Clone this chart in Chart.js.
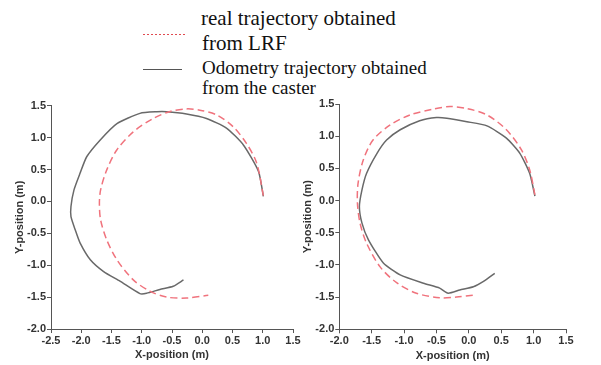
<!DOCTYPE html>
<html>
<head>
<meta charset="utf-8">
<script src="https://cdn.jsdelivr.net/npm/chart.js@4"></script>
<style>
  body { margin: 0; background: #fff; width: 601px; height: 365px; overflow: hidden; position: relative; }
  canvas { position: absolute; }
  .lg { position: absolute; font-family: "Liberation Serif", serif; line-height: 1; color: #111; white-space: nowrap; }
  .sample { position: absolute; height: 1px; }
</style>
</head>
<body>
<div class="sample" style="left:143px; top:34px; width:44px; background: repeating-linear-gradient(to right, #e04a50 0 2px, transparent 2px 4px);"></div>
<div class="lg" style="left:201px; top:8px; font-size:21px;">real trajectory obtained</div>
<div class="lg" style="left:202px; top:33px; font-size:21px;">from LRF</div>
<div class="sample" style="left:143px; top:69px; width:39px; background:#555;"></div>
<div class="lg" style="left:202px; top:58px; font-size:19px;">Odometry trajectory obtained</div>
<div class="lg" style="left:202px; top:78px; font-size:19px;">from the caster</div>

<canvas id="chartLeft" style="left:0px; top:95px;" width="310" height="270"></canvas>
<canvas id="chartRight" style="left:300px; top:95px;" width="301" height="270"></canvas>

<script>
// left panel: real trajectory (LRF) and odometry (caster)
const leftRealX = [1.01, 0.90, 0.73, 0.51, 0.24, -0.04, -0.26, -0.53, -0.81, -1.14, -1.41, -1.58, -1.68, -1.70, -1.68, -1.58, -1.41, -1.14, -0.86, -0.59, -0.26, 0.10];
const leftRealY = [0.09, 0.60, 0.91, 1.17, 1.355, 1.43, 1.45, 1.41, 1.30, 1.09, 0.81, 0.49, 0.18, -0.03, -0.29, -0.60, -0.915, -1.23, -1.41, -1.50, -1.515, -1.47];
const leftOdoX = [1.01, 0.93, 0.68, 0.40, 0.07, -0.26, -0.59, -0.75, -1.03, -1.41, -1.69, -1.91, -2.02, -2.12, -2.17, -2.17, -2.10, -2.02, -1.85, -1.63, -1.36, -1.03, -0.92, -0.70, -0.48, -0.31];
const leftOdoY = [0.08, 0.47, 0.885, 1.15, 1.30, 1.37, 1.405, 1.405, 1.38, 1.22, 0.96, 0.70, 0.44, 0.18, -0.08, -0.24, -0.445, -0.65, -0.915, -1.10, -1.25, -1.445, -1.44, -1.38, -1.33, -1.23];

// right panel
const rightRealX = [1.02, 0.94, 0.81, 0.58, 0.28, -0.03, -0.29, -0.55, -0.91, -1.22, -1.48, -1.63, -1.71, -1.72, -1.68, -1.58, -1.37, -1.11, -0.81, -0.45, -0.19, 0.07];
const rightRealY = [0.09, 0.475, 0.79, 1.10, 1.33, 1.43, 1.46, 1.42, 1.33, 1.17, 0.94, 0.63, 0.27, -0.04, -0.35, -0.66, -1.03, -1.28, -1.44, -1.51, -1.50, -1.47];
const rightOdoX = [1.02, 0.94, 0.79, 0.58, 0.28, -0.03, -0.34, -0.50, -0.76, -1.06, -1.27, -1.42, -1.58, -1.65, -1.69, -1.65, -1.55, -1.32, -1.06, -0.70, -0.45, -0.32, -0.14, 0.07, 0.22, 0.40];
const rightOdoY = [0.07, 0.42, 0.73, 0.97, 1.16, 1.225, 1.28, 1.29, 1.24, 1.10, 0.94, 0.73, 0.42, 0.165, -0.095, -0.35, -0.61, -0.97, -1.155, -1.285, -1.36, -1.44, -1.39, -1.34, -1.26, -1.13];

const tickStep = 0.5;
const yRange = [-2.0, 1.5];
const xRangeLeft = [-2.5, 1.5];
const xRangeRight = [-2.0, 1.5];

const toPoints = (xs, ys) => xs.map((x, i) => ({ x: x, y: ys[i] }));

const axisColor = '#555';
const tickFont = { family: "'Liberation Sans Narrow', 'Liberation Sans', sans-serif", size: 11, weight: 'bold' };

const makeChart = (canvasId, realX, realY, odoX, odoY, xRange, box) => {
  return new Chart(document.getElementById(canvasId), {
    type: 'scatter',
    data: {
      datasets: [
        {
          label: 'real trajectory obtained from LRF',
          data: toPoints(realX, realY),
          showLine: true,
          borderColor: 'rgb(240, 115, 125)',
          borderWidth: 1.5,
          borderDash: [7, 4],
          pointRadius: 0,
          tension: 0.3,
        },
        {
          label: 'Odometry trajectory obtained from the caster',
          data: toPoints(odoX, odoY),
          showLine: true,
          borderColor: 'rgb(105, 105, 105)',
          borderWidth: 1.5,
          pointRadius: 0,
          tension: 0.2,
        },
      ],
    },
    options: {
      responsive: false,
      animation: false,
      layout: { padding: { left: 0, top: box.top, right: box.right, bottom: 0 } },
      plugins: { legend: { display: false }, tooltip: { enabled: false } },
      scales: {
        x: {
          type: 'linear',
          min: xRange[0],
          max: xRange[1],
          afterFit: s => { s.height = box.xHeight; },
          border: { display: true, color: axisColor, width: 1 },
          grid: { drawOnChartArea: false, drawTicks: true, tickLength: 4, color: axisColor },
          ticks: {
            stepSize: tickStep,
            padding: 1,
            color: '#333',
            font: tickFont,
            maxRotation: 0,
            callback: v => v.toFixed(1),
          },
          title: {
            display: true,
            text: 'X-position (m)',
            color: '#333',
            font: tickFont,
            padding: { top: 0, bottom: box.xTitlePad },
          },
        },
        y: {
          type: 'linear',
          min: yRange[0],
          max: yRange[1],
          afterFit: s => { s.width = box.yWidth; },
          border: { display: true, color: axisColor, width: 1 },
          grid: { drawOnChartArea: false, drawTicks: true, tickLength: 4, color: axisColor },
          ticks: {
            stepSize: tickStep,
            padding: 1,
            color: '#333',
            font: tickFont,
            callback: v => v.toFixed(1),
          },
          title: {
            display: true,
            text: 'Y-position (m)',
            color: '#333',
            font: tickFont,
            padding: { top: box.yTitlePad, bottom: 0 },
          },
        },
      },
    },
  });
};

makeChart('chartLeft', leftRealX, leftRealY, leftOdoX, leftOdoY, xRangeLeft,
  { top: 10.7, right: 17, xHeight: 36, yWidth: 51, xTitlePad: 3.5, yTitlePad: 13.5 });
makeChart('chartRight', rightRealX, rightRealY, rightOdoX, rightOdoY, xRangeRight,
  { top: 9, right: 35, xHeight: 35.7, yWidth: 39.3, xTitlePad: 2, yTitlePad: 1 });
</script>
</body>
</html>
